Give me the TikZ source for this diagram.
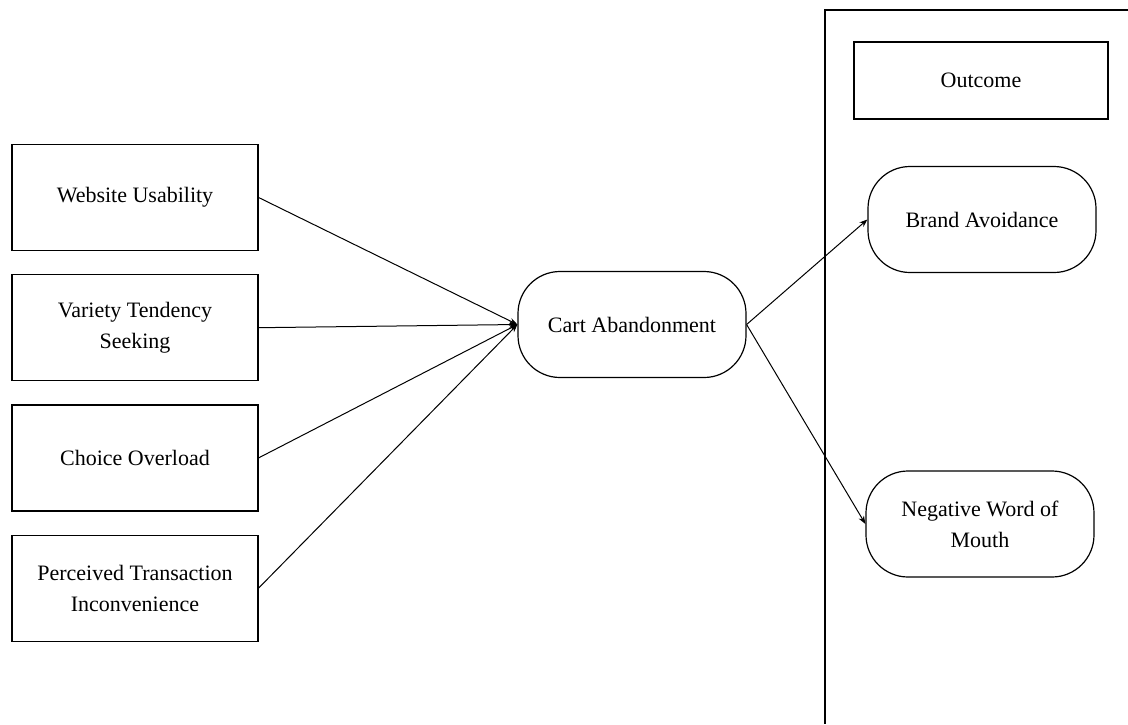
\documentclass[tikz,border=0pt]{standalone}
\usepackage{fontspec}
\setmainfont{Liberation Serif}
\usepackage{xcolor}
\usepackage{tikz}
\usetikzlibrary{positioning,arrows.meta}
\tikzset{
  factor/.style={draw, line width=1.2pt, minimum width=246pt, minimum height=106pt,
                 align=center, font=\fontsize{22}{31}\selectfont, inner sep=0pt},
  pill/.style={factor, rounded corners=42pt, minimum width=228pt},
  labelbox/.style={factor, minimum width=254pt, minimum height=77pt},
  arrow/.style={-{Stealth[length=8pt,width=6pt]}, line width=1pt},
}

\begin{document}
\begin{tikzpicture}[x=1pt, y=-1pt, node distance=23pt]
  \useasboundingbox (0,0) rectangle (1128,724);
  % outcome frame
  \draw[line width=1.2pt] (1128,10) -- (825,10) -- (825,724);
  \node[labelbox] (OUT) at (981,80.5) {Outcome};
  % antecedents
  \node[factor]                  (WU) at (135,197.5) {Website Usability};
  \node[factor, below=of WU]     (VT) {Variety Tendency\\Seeking};
  \node[factor, below=of VT]     (CO) {Choice Overload};
  \node[factor, below=of CO]     (PT) {Perceived Transaction\\Inconvenience};
  % mediator and outcomes
  \node[pill] (CA) at (632,324.5) {Cart Abandonment};
  \node[pill] (BA) at (982,219.5) {Brand Avoidance};
  \node[pill] (NW) at (980,524) {Negative Word of\\Mouth};
  \foreach \src in {WU,VT,CO,PT}
    \draw[arrow] (\src.east) -- (CA.west);
  \draw[arrow] (CA.east) -- (BA.west);
  \draw[arrow] (CA.east) -- (NW.west);
\end{tikzpicture}
\end{document}
